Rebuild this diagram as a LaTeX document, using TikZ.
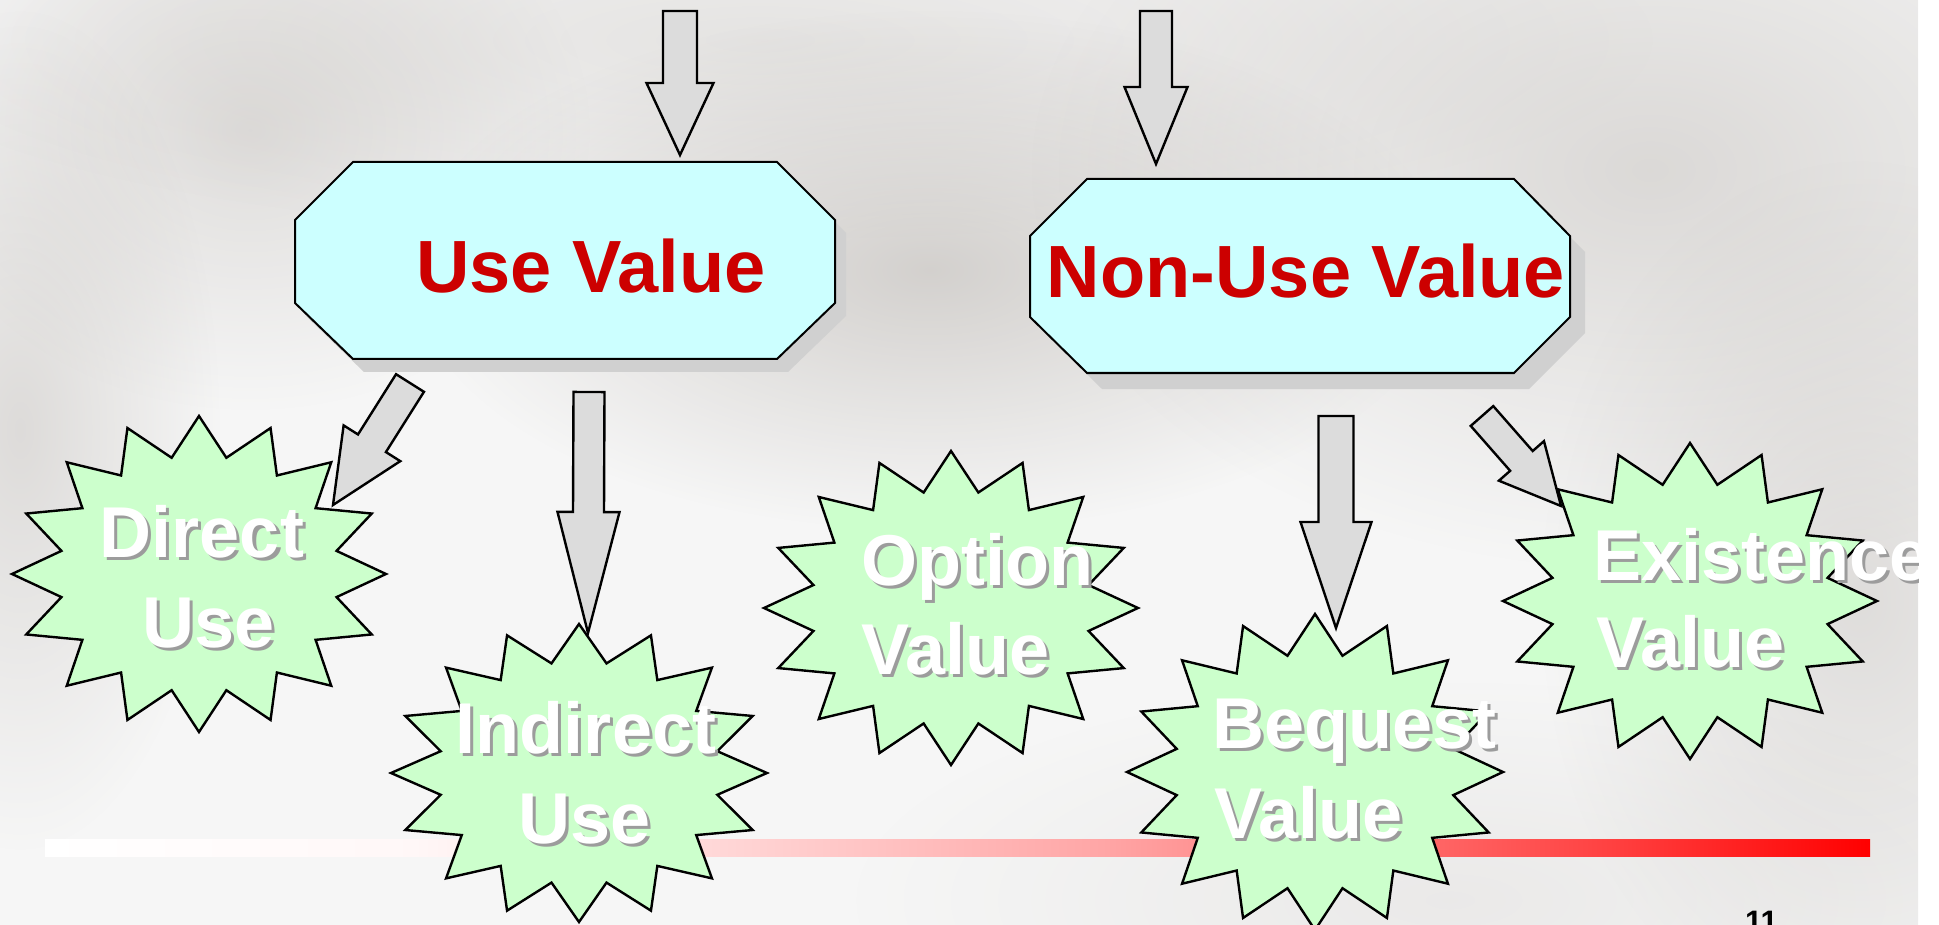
\documentclass[tikz,border=0pt]{standalone}
\usepackage{fontspec}
\setmainfont{Liberation Sans}
\usetikzlibrary{calc,fadings}

\definecolor{boxcyan}{HTML}{CCFFFF}
\definecolor{burstgreen}{HTML}{CCFFCC}
\definecolor{titlered}{HTML}{CC0000}
\definecolor{arrowgrey}{HTML}{DCDCDC}
\definecolor{shadowgrey}{HTML}{D0D0D0}
\definecolor{slidebg}{HTML}{F6F6F6}
\definecolor{smudge}{HTML}{A9A39D}
\definecolor{txtshadow}{HTML}{9C9C9C}

% footer bar colours (the path spans 25bp..75bp of the shading)
\pgfdeclarehorizontalshading{redbar}{100bp}{color(0bp)=(white); color(25bp)=(white); color(35bp)=(white!97!red); color(43bp)=(red!15); color(54bp)=(red!35); color(63bp)=(red!60); color(68bp)=(red!75); color(75bp)=(red); color(100bp)=(red)}
\tikzfading[name=blobfade, inner color=transparent!0, outer color=transparent!100]

\tikzset{
  octbox/.style={draw=black, line width=2pt, fill=boxcyan, line join=miter},
  octshadow/.style={fill=shadowgrey},
  burststyle/.style={draw=black, line width=2.4pt, fill=burstgreen, line join=miter},
  arrowstyle/.style={draw=black, line width=2.4pt, fill=arrowgrey, line join=miter},
  boxtext/.style={font=\bfseries\fontsize{74}{74}\selectfont, text=titlered, inner sep=0pt, anchor=base},
  bursttext/.style={font=\bfseries\fontsize{72}{72}\selectfont, inner sep=0pt, anchor=base},
  burstleft/.style={bursttext, anchor=base west},
  blob/.style={fill=smudge, path fading=blobfade},
}

% white label with a grey drop shadow
\newcommand{\shtext}[1]{\makebox[0pt][l]{\hspace*{3pt}\raisebox{-3pt}{\textcolor{txtshadow}{#1}}}\textcolor{white}{#1}}

% 16-point burst: name, centre x, centre y (downwards), x radius, y radius
\newcommand{\burst}[5]{%
  \coordinate (#1) at (#2,-#3);
  \draw[burststyle, shift={(#2,-#3)}] (90:#4 and #5)
    \foreach \k [evaluate=\k as \rr using {(1-0.25*mod(\k,2))*#4},
                 evaluate=\k as \ss using {(1-0.25*mod(\k,2))*#5}] in {1,...,31}
      { -- ({90+11.25*\k}:{\rr} and {\ss}) } -- cycle;
}

% block arrow: tail, tip, shaft half-width, head half-width, head length
\newcommand{\blockarrow}[5]{%
  \coordinate (bah) at ($(#2)!#5!(#1)$);
  \draw[arrowstyle] ($(#1)!#3!90:(#2)$) -- ($(bah)!#3!90:(#2)$) -- ($(bah)!#4!90:(#2)$)
    -- (#2) -- ($(bah)!#4!-90:(#2)$) -- ($(bah)!#3!-90:(#2)$) -- ($(#1)!#3!-90:(#2)$) -- cycle;
}

\begin{document}
\begin{tikzpicture}[x=1pt,y=1pt]
\useasboundingbox (0,0) rectangle (1939,-925);
\fill[white] (0,0) rectangle (1939,-925);

\begin{scope}
\clip (0,0) rectangle (1918,-925);
\fill[slidebg] (0,0) rectangle (1918,-925);

% faded backdrop
\fill[blob, fill opacity=.30] (250,-130) ellipse (340 and 280);
\fill[blob, fill opacity=.22] (760,-40) ellipse (900 and 200);
\fill[blob, fill opacity=.45] (930,-270) ellipse (520 and 260);
\fill[blob, fill opacity=.35] (1650,-170) ellipse (620 and 400);
\fill[blob, fill opacity=.32] (20,-430) ellipse (200 and 420);
\fill[blob, fill opacity=.30] (1860,-600) ellipse (320 and 440);
\fill[blob, fill opacity=.15] (1450,-900) ellipse (600 and 220);

% footer bar
\shade[shading=redbar] (45,-839) rectangle (1870,-856);

% category boxes
\fill[octshadow, shift={(11,-13)}] (295,-220) -- (353,-162) -- (777,-162) -- (835,-220) -- (835,-303) -- (777,-359) -- (353,-359) -- (295,-303) -- cycle;
\draw[octbox] (295,-220) -- (353,-162) -- (777,-162) -- (835,-220) -- (835,-303) -- (777,-359) -- (353,-359) -- (295,-303) -- cycle;
\fill[octshadow, shift={(15,-16)}] (1030,-236) -- (1087,-179) -- (1514,-179) -- (1570,-236) -- (1570,-317) -- (1514,-373) -- (1087,-373) -- (1030,-317) -- cycle;
\draw[octbox] (1030,-236) -- (1087,-179) -- (1514,-179) -- (1570,-236) -- (1570,-317) -- (1514,-373) -- (1087,-373) -- (1030,-317) -- cycle;
\node[boxtext] (usevalue) at (591,-293) {Use Value};
\node[boxtext] (nonusevalue) at (1306,-298) {Non-Use Value};

% value bursts
\burst{direct}{199}{574}{187}{158}
\burst{indirect}{579}{773}{188}{149}
\burst{option}{951}{608}{187}{157}
\burst{bequest}{1315}{772}{188}{158}
\burst{existence}{1690}{601}{187}{158}

% arrows
\coordinate (in1-tail) at (680,-11);   \coordinate (in1-tip) at (680,-155);
\coordinate (in2-tail) at (1156,-11);  \coordinate (in2-tip) at (1156,-164);
\coordinate (du-tail) at (410,-383);   \coordinate (du-tip) at (333,-505);
\coordinate (iu-tail) at (589,-392);   \coordinate (iu-tip) at (588,-633);
\coordinate (bq-tail) at (1336,-416);  \coordinate (bq-tip) at (1336,-628);
\coordinate (ex-tail) at (1482,-416);  \coordinate (ex-tip) at (1561,-506);
\blockarrow{in1-tail}{in1-tip}{17pt}{33.5pt}{72pt}
\blockarrow{in2-tail}{in2-tip}{16pt}{31.5pt}{77pt}
\blockarrow{du-tail}{du-tip}{16.5pt}{33.5pt}{73pt}
\blockarrow{iu-tail}{iu-tip}{15.5pt}{31pt}{121pt}
\blockarrow{bq-tail}{bq-tip}{17.5pt}{35.5pt}{106pt}
\blockarrow{ex-tail}{ex-tip}{15pt}{30pt}{60pt}

% burst labels
\node[bursttext] (direct-a) at (202,-557) {\shtext{Direct}};
\node[bursttext] (direct-b) at (209,-647) {\shtext{Use}};
\node[bursttext] (indirect-a) at (586,-753) {\shtext{Indirect}};
\node[bursttext] (indirect-b) at (585,-843) {\shtext{Use}};
\node[burstleft] (option-a) at (861,-585) {\shtext{Option}};
\node[burstleft] (option-b) at (861,-674) {\shtext{Value}};
\node[burstleft] (bequest-a) at (1212,-748) {\shtext{Bequest}};
\node[burstleft] (bequest-b) at (1214,-838) {\shtext{Value}};
\node[burstleft] (existence-a) at (1593,-580) {\shtext{Existence}};
\node[burstleft] (existence-b) at (1596,-667) {\shtext{Value}};

% slide number
\node[font=\bfseries\fontsize{31}{31}\selectfont, anchor=base west, inner sep=0pt] (pagenum) at (1745,-932) {11};
\end{scope}
\end{tikzpicture}
\end{document}
